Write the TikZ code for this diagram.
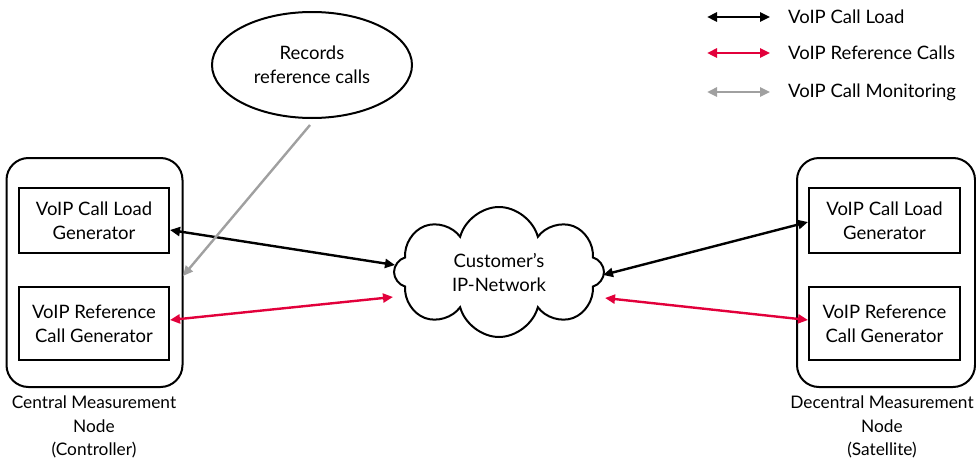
\documentclass[tikz,border=0pt]{standalone}
\usepackage{fontspec}
\setmainfont{Lato}
\usetikzlibrary{arrows.meta,shapes.geometric,shapes.symbols}

\definecolor{refred}{HTML}{E2003B}
\definecolor{mongray}{HTML}{A0A0A0}

\tikzset{
  txt/.style={font=\fontsize{18.5}{24}\selectfont, align=center},
  captxt/.style={font=\fontsize{17.3}{23.5}\selectfont, align=center, anchor=north, inner sep=0pt},
  genbox/.style={draw, line width=2pt, minimum width=150pt, txt},
  nodebox/.style={draw, line width=2pt, rounded corners=22pt, minimum width=176pt, minimum height=229pt},
  flow/.style={line width=2.4pt, {Triangle[length=10pt,width=9pt]}-{Triangle[length=10pt,width=9pt]}},
  monflow/.style={line width=2.4pt, mongray, -{Triangle[length=10pt,width=9pt]}}
}

\begin{document}
\begin{tikzpicture}[x=1pt,y=-1pt]
    \useasboundingbox (0,0) rectangle (976,463);

    % central measurement node (left)
    \node[nodebox] (central) at (94.5,272.5) {};
    \node[genbox, minimum height=65pt] (cload) at (94,220.5) {VoIP Call Load\\Generator};
    \node[genbox, minimum height=73pt] (cref) at (94,323.5) {VoIP Reference\\Call Generator};
    \node[captxt] (centralcap) at (94,396) {Central Measurement\\Node\\(Controller)};

    % decentral measurement node (right)
    \node[nodebox, minimum width=178pt] (decentral) at (886,272.5) {};
    \node[genbox, minimum height=65pt, minimum width=151pt] (dload) at (884.5,220.5) {VoIP Call Load\\Generator};
    \node[genbox, minimum height=73pt, minimum width=151pt] (dref) at (884.5,323.5) {VoIP Reference\\Call Generator};
    \node[captxt] (decentralcap) at (882,396) {Decentral Measurement\\Node\\(Satellite)};

    % network and recorder
    \node[cloud, draw, line width=2pt, cloud puffs=8, aspect=1.6, minimum width=210pt, minimum height=130pt, txt] (net) at (499,272) {Customer's\\IP-Network};
    \node[ellipse, draw, line width=2pt, minimum width=200pt, minimum height=106pt, txt] (rec) at (312,65) {Records\\reference calls};

    % connections
    \coordinate (netW1) at (395,265);
    \coordinate (netW2) at (393,297);
    \coordinate (netE1) at (603,275);
    \coordinate (netE2) at (605,298);
    \coordinate (recS) at (310,125);
    \coordinate (monend) at (183,276);
    \draw[flow] (cload.east |- 0,230) -- (netW1);
    \draw[flow, refred] (cref.east |- 0,320) -- (netW2);
    \draw[flow] (netE1) -- (dload.west |- 0,222);
    \draw[flow, refred] (netE2) -- (dref.west |- 0,320);
    \draw[monflow] (recS) -- (monend);

    % legend
    \coordinate (lg1a) at (707,17);  \coordinate (lg1b) at (770,17);
    \coordinate (lg2a) at (707,53);  \coordinate (lg2b) at (770,53);
    \coordinate (lg3a) at (707,92);  \coordinate (lg3b) at (770,92);
    \draw[flow] (lg1a) -- (lg1b);
    \draw[flow, refred] (lg2a) -- (lg2b);
    \draw[flow, mongray] (lg3a) -- (lg3b);
    \node[txt, anchor=west, inner sep=0pt] (lg1) at (788,17) {VoIP Call Load};
    \node[txt, anchor=west, inner sep=0pt] (lg2) at (788,53) {VoIP Reference Calls};
    \node[txt, anchor=west, inner sep=0pt] (lg3) at (788,92) {VoIP Call Monitoring};
\end{tikzpicture}
\end{document}
